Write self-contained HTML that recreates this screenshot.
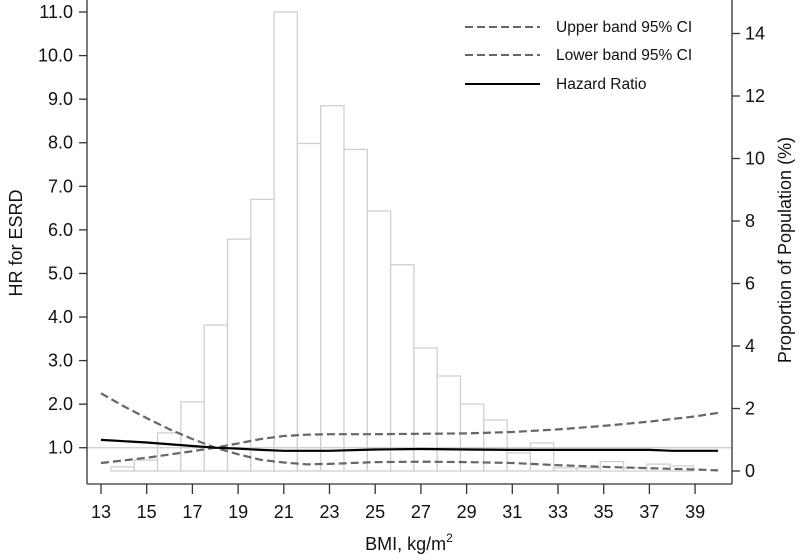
<!DOCTYPE html>
<html><head><meta charset="utf-8"><style>
body{margin:0;background:#fff}
svg{display:block;font-family:"Liberation Sans",Arial,sans-serif}
</style></head><body>
<svg id="chart" width="800" height="555" viewBox="0 0 800 555" xmlns="http://www.w3.org/2000/svg"></svg>
<script>
const barBins=[14,15,16,17,18,19,20,21,22,23,24,25,26,27,28,29,30,31,32,33,34,35,36,37,38];
const barPct=[0.13,0.35,1.22,2.21,4.67,7.42,8.69,14.69,10.48,11.69,10.29,8.32,6.6,3.94,3.04,2.14,1.63,0.58,0.9,0.1,0.1,0.3,0.1,0.22,0.16];
const hrX=[13,15,17,18,19,20,21,23,25,27,29,31,35,37,38,40];
const hrY=[1.18,1.12,1.04,1.0,0.98,0.95,0.93,0.93,0.96,0.97,0.96,0.95,0.95,0.95,0.93,0.93];
const upX=[13,15,17,18,19,20,21,22,23,25,27,29,31,33,35,37,39,40];
const upY=[0.65,0.77,0.92,1.0,1.1,1.2,1.27,1.3,1.31,1.31,1.32,1.33,1.36,1.42,1.5,1.6,1.72,1.8];
const loX=[13,14,15,16,17,18,19,20,21,22,23,25,27,29,31,33,35,37,39,40];
const loY=[2.25,1.95,1.68,1.42,1.2,1.0,0.85,0.72,0.66,0.62,0.63,0.67,0.68,0.67,0.65,0.6,0.56,0.53,0.5,0.48];
const xTicks=[13,15,17,19,21,23,25,27,29,31,33,35,37,39];
const yTicks=[1,2,3,4,5,6,7,8,9,10,11];
const rTicks=[0,2,4,6,8,10,12,14];

const NS="http://www.w3.org/2000/svg";
const svg=document.getElementById('chart');
const X=b=>101+(b-13)*22.85;
const XB=b=>111+(b-14)*23.3;
const Y=v=>491.3-v*43.57;
const YR=p=>471-p*31.25;
function mk(t,a,p){const e=document.createElementNS(NS,t);for(const k in a)e.setAttribute(k,a[k]);(p||svg).appendChild(e);return e;}

const bars=mk('g',{});


barBins.forEach((b,i)=>{
  const r=mk('rect',{x:XB(b),y:YR(barPct[i]),width:23.3,height:YR(0)-YR(barPct[i]),fill:'#fff',stroke:'#cfcfcf','stroke-width':1.3},bars);
  
  
});
const ref=mk('line',{x1:87,x2:732,y1:Y(1),y2:Y(1),stroke:'#cccccc','stroke-width':1.2});



function line(xs,ys,name,dash,color){
  const pts=xs.map((x,i)=>X(x).toFixed(1)+','+Y(ys[i]).toFixed(1)).join(' ');
  const a={points:pts,fill:'none',stroke:color,'stroke-width':2.2};
  if(dash)a['stroke-dasharray']=dash;
  const p=mk('polyline',a);
  
  
}
line(upX,upY,'upper-ci-line','8,4','#666');
line(loX,loY,'lower-ci-line','8,4','#666');
line(hrX,hrY,'hazard-ratio-line',null,'#000');

const ax=mk('g',{stroke:'#333','stroke-width':1.3,fill:'none'});


mk('line',{x1:87,y1:0,x2:87,y2:484},ax);
mk('line',{x1:732,y1:0,x2:732,y2:484},ax);
mk('line',{x1:87,y1:484,x2:732,y2:484},ax);
xTicks.forEach(t=>{
  mk('line',{x1:X(t),x2:X(t),y1:484,y2:494},ax);
  const tx=mk('text',{x:X(t),y:518,'text-anchor':'middle','font-size':18,fill:'#111',stroke:'none'});
  tx.textContent=t;
  
  
});
yTicks.forEach(t=>{
  mk('line',{x1:79,x2:87,y1:Y(t),y2:Y(t)},ax);
  const tx=mk('text',{x:73,y:Y(t)+6,'text-anchor':'end','font-size':18,fill:'#111',stroke:'none'});
  tx.textContent=t.toFixed(1);
  
  
});
rTicks.forEach(t=>{
  mk('line',{x1:732,x2:740,y1:YR(t),y2:YR(t)},ax);
  const tx=mk('text',{x:745,y:YR(t)+6,'font-size':18,fill:'#111',stroke:'none'});
  tx.textContent=t;
  
  
});
</script>
<script>
(function(){
const NS="http://www.w3.org/2000/svg",svg=document.getElementById('chart');
function t(x,y,s,extra){const e=document.createElementNS(NS,'text');e.setAttribute('x',x);e.setAttribute('y',y);e.setAttribute('font-size',18);e.setAttribute('fill','#111');if(extra.tr)e.setAttribute('transform',extra.tr);if(extra.anchor)e.setAttribute('text-anchor',extra.anchor);e.innerHTML=s;svg.appendChild(e);return e;}
let e;
e=t(409,550,'BMI, kg/m<tspan font-size="12" dy="-8">2</tspan>',{anchor:'middle'});


e=t(0,0,'HR for ESRD',{anchor:'middle',tr:'translate(22,243) rotate(-90)'});


e=t(0,0,'Proportion of Population (%)',{anchor:'middle',tr:'translate(791,250) rotate(-90)'});


const L=[['Upper band 95% CI',27,'8,4','#666'],['Lower band 95% CI',55,'8,4','#666'],['Hazard Ratio',84,null,'#000']];
L.forEach(l=>{
  const g=document.createElementNS(NS,'g');svg.appendChild(g);
  
  
  const ln=document.createElementNS(NS,'line');
  ln.setAttribute('x1',465);ln.setAttribute('x2',540);ln.setAttribute('y1',l[1]);ln.setAttribute('y2',l[1]);
  ln.setAttribute('stroke',l[3]);ln.setAttribute('stroke-width',2);if(l[2])ln.setAttribute('stroke-dasharray',l[2]);
  g.appendChild(ln);
  const tx=document.createElementNS(NS,'text');tx.setAttribute('x',556);tx.setAttribute('y',l[1]+5);tx.setAttribute('font-size',15.5);tx.setAttribute('fill','#111');tx.textContent=l[0];g.appendChild(tx);
});
})();
</script>
</body></html>
